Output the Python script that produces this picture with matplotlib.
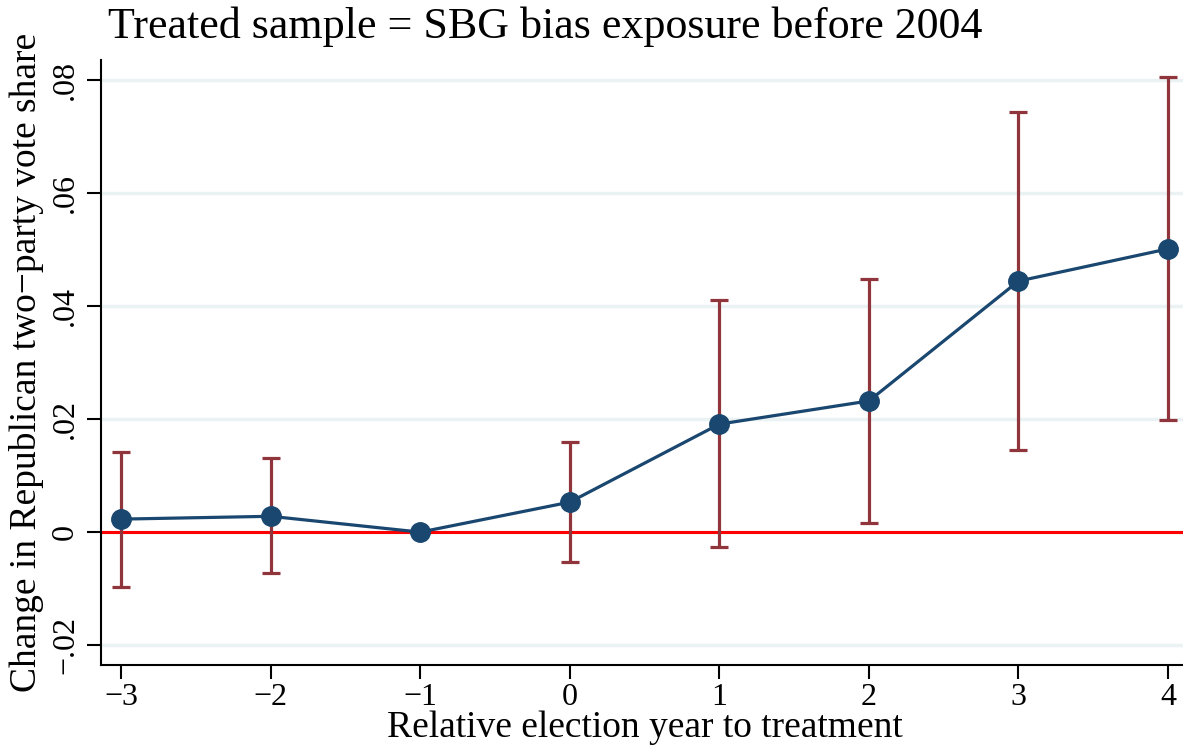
import matplotlib
matplotlib.use("Agg")
import matplotlib.pyplot as plt

rel_year = [-3, -2, -1, 0, 1, 2, 3, 4]
coef = [0.0023, 0.0028, 0.0, 0.0053, 0.0191, 0.0232, 0.0444, 0.0501]
ci_low = [-0.0097, -0.0073, 0.0, -0.0053, -0.0027, 0.0016, 0.0145, 0.0198]
ci_high = [0.0142, 0.0131, 0.0, 0.0159, 0.0411, 0.0448, 0.0743, 0.0805]
yticks = [-0.02, 0, 0.02, 0.04, 0.06, 0.08]
ytick_labels = ["\u2212.02", "0", ".02", ".04", ".06", ".08"]
xtick_labels = ["\u22123", "\u22122", "\u22121", "0", "1", "2", "3", "4"]

plt.rcParams['font.family'] = ['Liberation Serif', 'DejaVu Serif']

W, H = 1183, 754
fig = plt.figure(figsize=(W/100, H/100), dpi=100)
ax_l, ax_b, ax_t = 101, 665, 60
ax = fig.add_axes([ax_l/W, 1-ax_b/H, (W-ax_l)/W, (ax_b-ax_t)/H])
ax_w, ax_h = W-ax_l, ax_b-ax_t

for y in yticks:
    ax.axhline(y, color='#eaf2f3', lw=2.5, zorder=0)
ax.axhline(0, color='#ff0000', lw=2.2, zorder=1)

eb_low = [c - l for c, l in zip(coef, ci_low)]
eb_high = [h - c for c, h in zip(coef, ci_high)]
ax.errorbar([x for x in rel_year if x != -1],
            [c for x, c in zip(rel_year, coef) if x != -1],
            yerr=[[e for x, e in zip(rel_year, eb_low) if x != -1],
                  [e for x, e in zip(rel_year, eb_high) if x != -1]],
            fmt='none', ecolor='#90353b', elinewidth=2.3, capsize=6.5, capthick=2.3, zorder=2)
ax.plot(rel_year, coef, color='#1a476f', lw=2.3, marker='o', ms=14, zorder=3)

ax.set_xlim(-3.134, 4.1)
ax.set_ylim(-0.0235, 0.0835)
ax.set_xticks(rel_year)
ax.set_xticklabels(xtick_labels)
ax.set_yticks(yticks)
ax.set_yticklabels(ytick_labels, rotation=90, va='center')
ax.tick_params(axis='both', labelsize=23, length=10, width=1.5, direction='out')
ax.tick_params(axis='x', pad=3)
ax.tick_params(axis='y', pad=5)
for s in ['top', 'right']:
    ax.spines[s].set_visible(False)
for s in ['left', 'bottom']:
    ax.spines[s].set_linewidth(1.5)

ax.set_xlabel("Relative election year to treatment", fontsize=27)
ax.xaxis.label.set_va('baseline')
ax.xaxis.set_label_coords((645-ax_l)/ax_w, -(737-ax_b)/ax_h)
ax.set_ylabel("Change in Republican two\u2212party vote share", fontsize=27)
ax.yaxis.label.set_va('center')
ax.yaxis.set_label_coords(-(ax_l-27)/ax_w, 0.5)
fig.text(108/W, 1-27/H, "Treated sample = SBG bias exposure before 2004", fontsize=31.7,
         va='center', ha='left')

fig.savefig("out.png", dpi=100)
